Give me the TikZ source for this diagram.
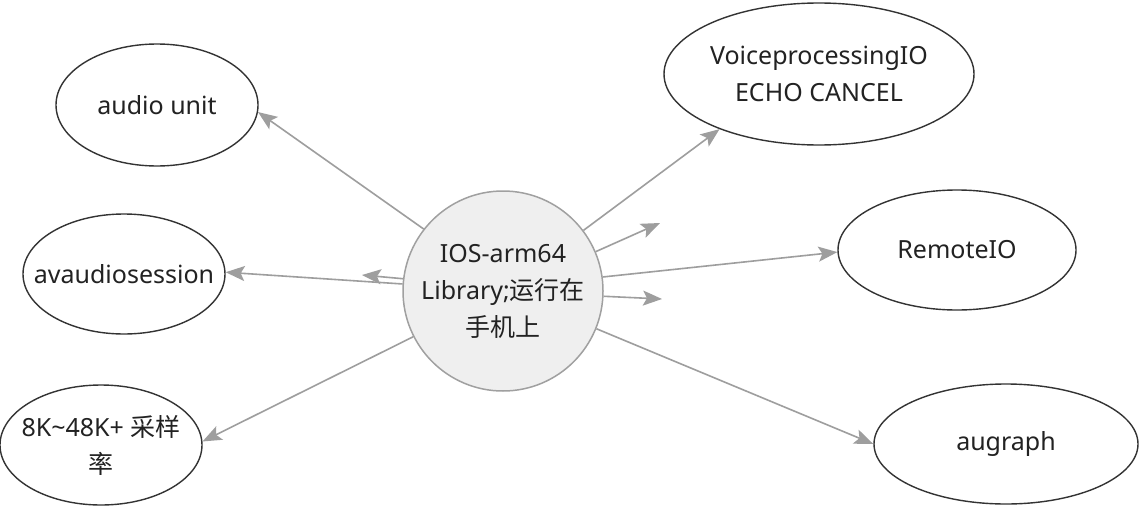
\documentclass[tikz,border=0pt]{standalone}
\usepackage{fontspec}
\setmainfont{Noto Sans}
\newfontfamily\cjk{Noto Sans CJK SC}
\usetikzlibrary{arrows.meta,shapes.geometric}
\definecolor{arr}{HTML}{9E9E9E}
\definecolor{ctrfill}{HTML}{EFEFEF}
\definecolor{ctrline}{HTML}{A0A0A0}
\definecolor{ellline}{HTML}{333333}
\definecolor{txtcol}{HTML}{222222}
\begin{document}
\begin{tikzpicture}[x=1pt,y=-1pt,
  ell/.style={ellipse,draw=ellline,line width=1.4pt,inner sep=0pt},
  txt/.style={font=\fontsize{25}{37}\selectfont,align=center,text=txtcol,inner sep=0pt},
  conn/.style={draw=arr,line width=1.6pt,-{Stealth[length=19pt,width=15pt,inset=4pt]}},
]
\useasboundingbox[fill=white] (0,0) rectangle (1140,506);
\node[circle,draw=ctrline,fill=ctrfill,line width=1.5pt,minimum size=200pt,inner sep=0pt,
  label={[txt]center:{IOS-arm64\\Library;{\cjk 运行在}\\{\cjk 手机上}}}] (c) at (503,291) {};
\node[ell,minimum width=202pt,minimum height=122pt,label={[txt]center:{audio unit}}] (au) at (157,105) {};
\node[ell,minimum width=202pt,minimum height=120pt,label={[txt]center:{avaudiosession}}] (av) at (124,274) {};
\node[ell,minimum width=202pt,minimum height=120pt,label={[txt]center:{8K\textasciitilde48K+ {\cjk 采样}\\{\cjk 率}}}] (k) at (101,445) {};
\node[ell,minimum width=310pt,minimum height=142pt,label={[txt]center:{VoiceprocessingIO\\ECHO CANCEL}}] (vp) at (819,74) {};
\node[ell,minimum width=238pt,minimum height=120pt,label={[txt]center:{RemoteIO}}] (rio) at (957,250) {};
\node[ell,minimum width=264pt,minimum height=120pt,label={[txt]center:{augraph}}] (ag) at (1006,444) {};
\coordinate (ld) at (362,275);
\coordinate (rd1) at (660,223);
\coordinate (rd2) at (662,299);
\draw[conn] (c.142) -- (au.-4);
\draw[conn] (c.176) -- (av.1);
\draw[conn] (c.173) -- (ld);
\draw[conn] (c.207) -- (k.2);
\draw[conn] (c.37.5) -- (vp.209);
\draw[conn] (c.23) -- (rd1);
\draw[conn] (c.8) -- (rio.181);
\draw[conn] (c.-3) -- (rd2);
\draw[conn] (c.-22.5) -- (ag.west);
\end{tikzpicture}
\end{document}
